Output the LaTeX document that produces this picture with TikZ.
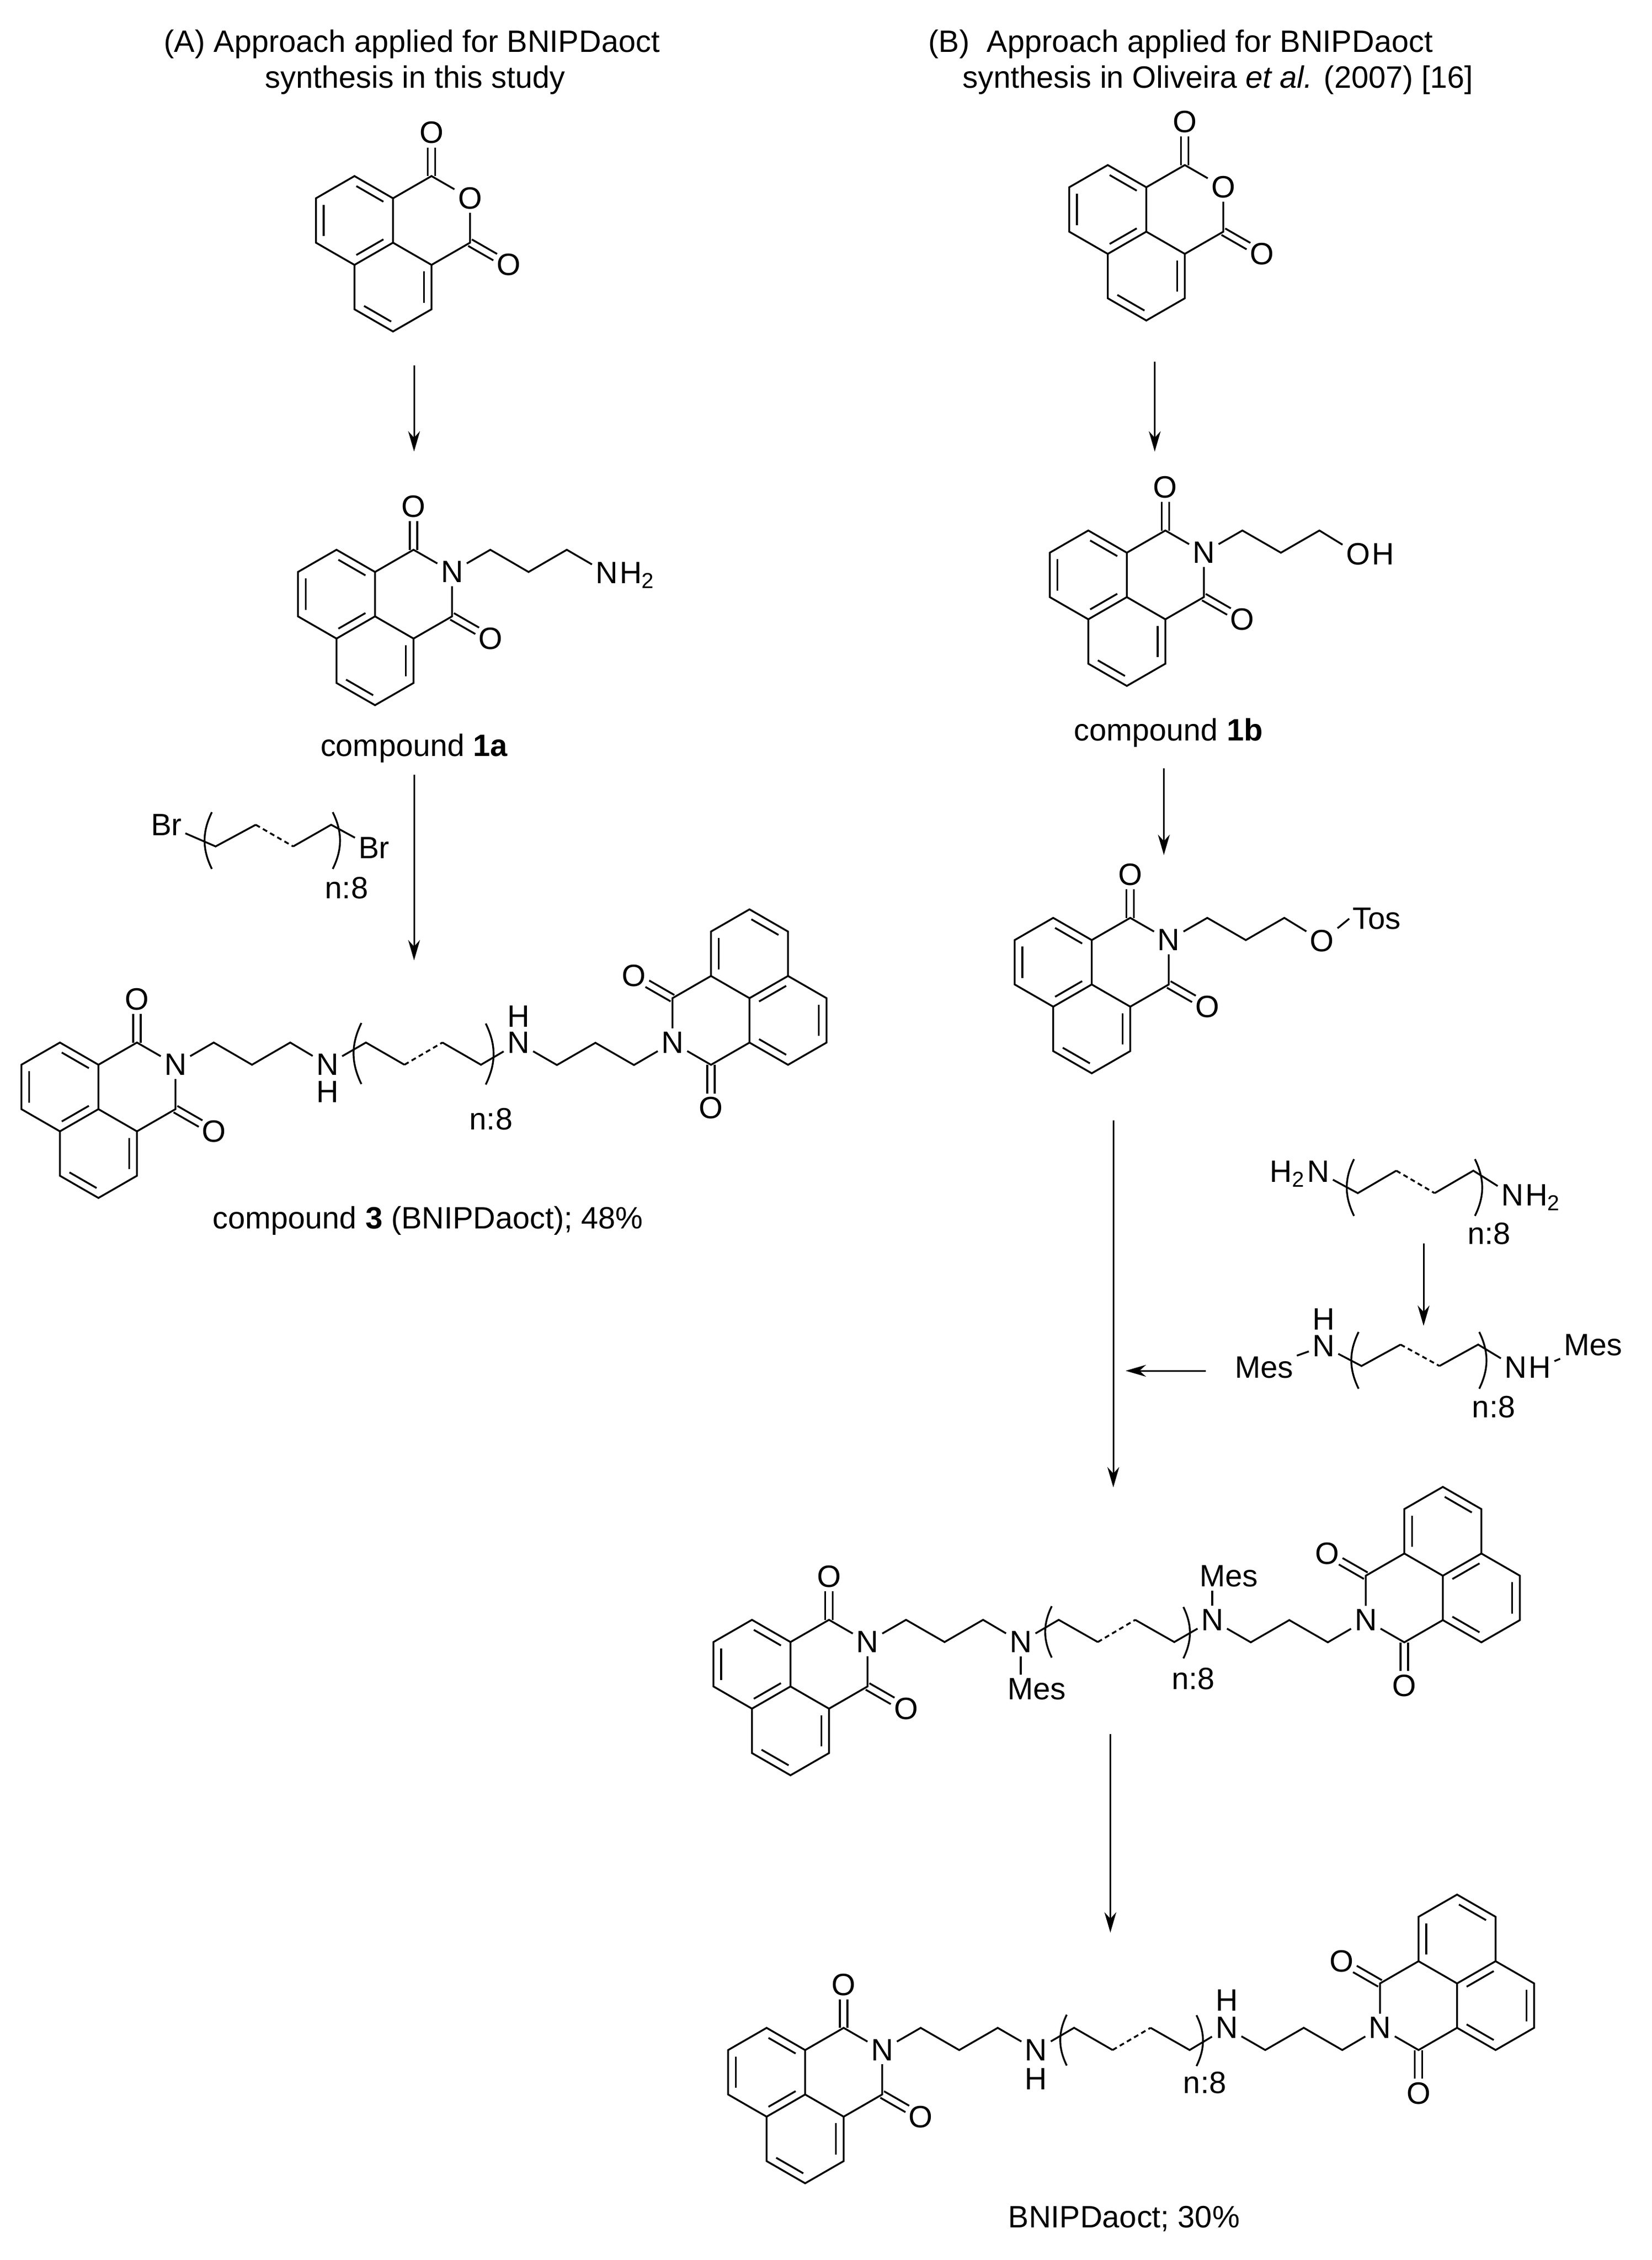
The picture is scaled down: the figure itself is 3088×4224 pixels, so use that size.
\documentclass[tikz,border=0pt]{standalone}
\usepackage{fontspec}
\setmainfont{Liberation Sans}
\usetikzlibrary{arrows.meta,calc,positioning}
\tikzset{
	lbl/.style={inner sep=.05cm},
	hlbl/.style={inner sep=0pt},
	tail/.style={inner sep=0pt,anchor=base west},
	txt/.style={inner sep=0pt,anchor=base},
	rxn/.style={line width=.03cm,-{Stealth[length=.38cm,width=.22cm,inset=.12cm]}},
	bdash/.style={dash pattern=on .09cm off .065cm},
	inner/.style={shorten <=.04cm,shorten >=.04cm},
	pics/lpar/.style={code={\draw (0,-#1) to[bend right=26] (0,#1);}},
	pics/rpar/.style={code={\draw (0,-#1) to[bend left=26] (0,#1);}},
	pics/core/.style={code={
		\node[lbl] (x) at (144,-83) {#1};
		\node[lbl] (o1) at (72,-205.5) {O};
		\node[lbl] (o2) at (216,41.5) {O};
		\coordinate (ca) at (-72,-41);
		\coordinate (cb) at (0,83);
		\draw (0,0) -- (0,-83) -- (-72,-124.5) -- (-144,-83) -- (-144,0) -- (-72,41.5) -- cycle;
		\draw (-72,41.5) -- (-72,124.5) -- (0,166) -- (72,124.5) -- (72,41.5) -- (0,0);
		\draw (0,-83) -- (72,-124.5) -- (x) -- (144,0) -- (72,41.5);
		\draw (65,-124.5) -- (65,-178) (79,-124.5) -- (79,-178);
		\draw (147.5,-6) -- (194.5,21) (140.5,6) -- (187.5,33);
		\draw[inner] ($(ca)!.8!(0,-83)$) -- ($(ca)!.8!(-72,-124.5)$);
		\draw[inner] ($(ca)!.8!(-144,-83)$) -- ($(ca)!.8!(-144,0)$);
		\draw[inner] ($(ca)!.8!(-72,41.5)$) -- ($(ca)!.8!(0,0)$);
		\draw[inner] ($(cb)!.8!(72,41.5)$) -- ($(cb)!.8!(72,124.5)$);
		\draw[inner] ($(cb)!.8!(0,166)$) -- ($(cb)!.8!(-72,124.5)$);
	}},
}
\begin{document}
\begin{tikzpicture}[x=.01cm,y=-.01cm,line width=.034cm,font=\fontsize{16.4}{19}\selectfont]
	\useasboundingbox (0,0) rectangle (3088,4224);
	\node[txt] (ta1) at (770,98) {(A) Approach applied for BNIPDaoct};
	\node[txt] (ta2) at (776,165) {synthesis in this study};
	\node[txt,anchor=base west] (tb1) at (1734,98) {(B)\ \ Approach applied for BNIPDaoct};
	\node[txt,anchor=base west] (tb2) at (1798,165) {synthesis in Oliveira {\itshape et al.} (2007) [16]};
	\coordinate (a1s) at (774,683); \coordinate (a1e) at (774,844);
	\coordinate (a2s) at (774,1448); \coordinate (a2e) at (774,1795);
	\coordinate (b1s) at (2158.5,676); \coordinate (b1e) at (2158.5,844);
	\coordinate (b2s) at (2175.5,1436); \coordinate (b2e) at (2175.5,1598);
	\coordinate (b3s) at (2081,2094); \coordinate (b3e) at (2081,2780);
	\coordinate (b4s) at (2661,2324); \coordinate (b4e) at (2661,2478);
	\coordinate (b5s) at (2254,2562); \coordinate (b5e) at (2104,2562);
	\coordinate (b6s) at (2075.5,3241); \coordinate (b6e) at (2075.5,3612);
	\foreach \s/\e in {a1s/a1e,a2s/a2e,b1s/b1e,b2s/b2e,b3s/b3e,b4s/b4e,b5s/b5e,b6s/b6e}
		\draw[rxn] (\s) -- (\e);
	\pic (anA-) at (734.6,453.6) {core=O};
	\pic (anB-) at (2142.7,433) {core=O};
	\pic (ma-) at (701,1152) {core=N};
	\node[lbl] (nh2a) at (1134,1071) {N};
	\node[tail] (nh2ah) at ([xshift=-.05cm]nh2a.base east) {H\textsubscript{2}};
	\draw (ma-x) -- ++(71.5,-41.5) -- ++(71.5,41.5) -- ++(71.5,-41.5) -- (nh2a);
	\node[txt] (cap1a) at (774,1413) {compound \textbf{1a}};
	\node[lbl] (bra) at (311,1542) {Br};
	\node[lbl] (brb) at (699,1585) {Br};
	\draw (bra) -- (403,1582) -- (478,1541.5) coordinate (br1);
	\draw[bdash] (br1) -- (548,1582) coordinate (br2);
	\draw (br2) -- (619,1541.5) -- (brb);
	\pic at (396,1571) {lpar=53};
	\pic at (622,1571) {rpar=53};
	\node[lbl] (n1) at (648,1660) {n:8};
	\pic (m3a-) at (184,2073) {core=N};
	\node[lbl] (n3a) at (612,1990) {N};
	\node[hlbl] (h3a) at (612,2041) {H};
	\node[lbl] (n3b) at (969,1949) {N};
	\node[hlbl] (h3b) at (969,1900) {H};
	\pic[rotate=180] (m3b-) at (1401,1865.6) {core=N};
	\draw (m3a-x) -- ++(71.5,-41.5) -- ++(71.5,41.5) -- ++(71.5,-41.5) -- (n3a);
	\draw (n3a) -- ++(72,-41.5) -- ++(72,41.5) coordinate (s1);
	\draw[bdash] (s1) -- ++(71,-41.5) coordinate (s2);
	\draw (s2) -- ++(72,41.5) -- (n3b);
	\draw (n3b) -- ++(72,41.5) -- ++(72,-41.5) -- ++(72,41.5) -- (m3b-x);
	\pic at (675.5,1969) {lpar=57};
	\pic at (908,1970) {rpar=57};
	\node[lbl] (n2) at (918,2092) {n:8};
	\node[txt] (cap3) at (800,2296) {compound \textbf{3} (BNIPDaoct); 48\%};
	\pic (mb-) at (2106.3,1116) {core=N};
	\node[lbl] (ohb) at (2538.6,1036) {O};
	\node[tail] (ohbh) at ([xshift=-.05cm]ohb.base east) {H};
	\draw (mb-x) -- ++(72,-41.5) -- ++(72,41.5) -- ++(72,-41.5) -- (ohb);
	\node[txt] (cap1b) at (2184,1384) {compound \textbf{1b}};
	\pic (mt-) at (2040.7,1840) {core=N};
	\node[lbl] (ot) at (2471,1758.7) {O};
	\node[lbl] (tos) at (2573.6,1717) {Tos};
	\draw (mt-x) -- ++(72,-41.5) -- ++(72,41.5) -- ++(72,-41.5) -- (ot);
	\draw (ot) -- (tos.west);
	\node[lbl] (dn1) at (2464,2190) {N};
	\node[inner sep=0pt,anchor=base east] (dn1h) at ([xshift=.05cm]dn1.base west) {H\textsubscript{2}};
	\node[lbl] (dn2) at (2827,2234) {N};
	\node[tail] (dn2h) at ([xshift=-.05cm]dn2.base east) {H\textsubscript{2}};
	\draw (dn1) -- (2538,2230) -- (2610,2188) coordinate (d1);
	\draw[bdash] (d1) -- (2681.7,2230) coordinate (d2);
	\draw (d2) -- (2754,2188) -- (dn2);
	\pic at (2531,2219.5) {lpar=53};
	\pic at (2757,2219.5) {rpar=53};
	\node[lbl] (n3) at (2783.6,2306) {n:8};
	\node[lbl] (en1) at (2474,2516) {N};
	\node[hlbl] (en1h) at (2474,2466) {H};
	\node[lbl] (mes1) at (2363,2555.5) {Mes};
	\node[lbl] (en2) at (2833,2555.5) {N};
	\node[lbl,anchor=base west] (en2h) at ([xshift=-.1cm]en2.base east) {H};
	\node[lbl] (mes2) at (2977.5,2514) {Mes};
	\draw (mes1) -- (en1);
	\draw (en1) -- (2545,2553) -- (2618,2513) coordinate (e1);
	\draw[bdash] (e1) -- (2690.7,2553) coordinate (e2);
	\draw (e2) -- (2763,2513) -- (en2);
	\draw (en2h) -- (mes2);
	\pic at (2539.5,2542.5) {lpar=53};
	\pic at (2765,2542.5) {rpar=53};
	\node[lbl] (n4) at (2792,2630) {n:8};
	\pic (mma-) at (1477.6,3152) {core=N};
	\node[lbl] (mna) at (1908,3069) {N};
	\node[lbl] (mnb) at (2266,3028) {N};
	\node[lbl] (mesa) at (1938,3157) {Mes};
	\node[lbl] (mesb) at (2297,2946.4) {Mes};
	\pic[rotate=180] (mmb-) at (2697,2945) {core=N};
	\draw (mma-x) -- ++(72,-41.5) -- ++(72,41.5) -- ++(72,-41.5) -- (mna);
	\draw (mna) -- ++(71,-41.5) -- ++(73,41.5) coordinate (m1);
	\draw[bdash] (m1) -- ++(70,-41.5) coordinate (m2);
	\draw (m2) -- ++(73,41.5) -- (mnb);
	\draw (mnb) -- ++(72,41.5) -- ++(72,-41.5) -- ++(72,41.5) -- (mmb-x);
	\draw (mna) -- (mna|-mesa.north);
	\draw (mnb) -- (mnb|-mesb.south);
	\pic at (1966,3050) {lpar=48};
	\pic at (2212,3051.5) {rpar=48};
	\node[lbl] (n5) at (2230.6,3138) {n:8};
	\pic (mfa-) at (1505,3914.6) {core=N};
	\node[lbl] (fna) at (1936.7,3831.5) {N};
	\node[hlbl] (fha) at (1936.7,3885.5) {H};
	\node[lbl] (fnb) at (2293,3790) {N};
	\node[hlbl] (fhb) at (2293,3739) {H};
	\pic[rotate=180] (mfb-) at (2723.6,3707) {core=N};
	\draw (mfa-x) -- ++(72,-41.5) -- ++(72,41.5) -- ++(72,-41.5) -- (fna);
	\draw (fna) -- ++(71,-41.5) -- ++(72,41.5) coordinate (f1);
	\draw[bdash] (f1) -- ++(71,-41.5) coordinate (f2);
	\draw (f2) -- ++(73,41.5) -- (fnb);
	\draw (fnb) -- ++(72,41.5) -- ++(72,-41.5) -- ++(72,41.5) -- (mfb-x);
	\pic at (1994,3813) {lpar=47.5};
	\pic at (2236.5,3814) {rpar=47.5};
	\node[lbl] (n6) at (2252,3893) {n:8};
	\node[txt] (capf) at (2101,4163) {BNIPDaoct; 30\%};
\end{tikzpicture}
\end{document}
